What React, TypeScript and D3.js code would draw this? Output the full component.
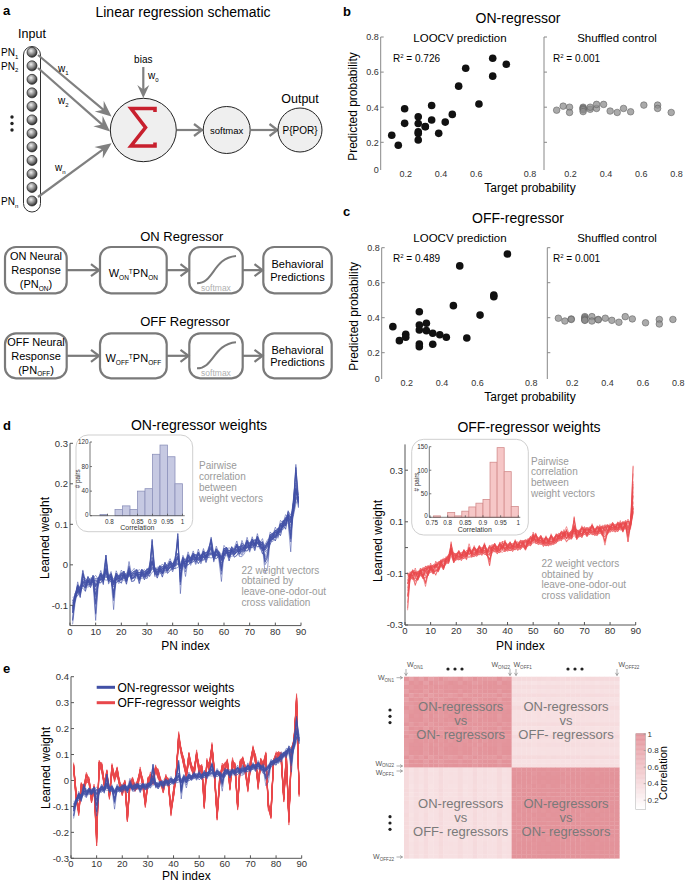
import React from 'react';
import * as d3 from 'd3';

const FONT = "'Liberation Sans', Arial, sans-serif";
const AX = '#555';
const ANN = '#9a9a9a';
const BLUE = '#4150a6';
const RED = '#e8474b';

// ---------- panel b / c data ----------
const targetProb = [0.121,0.158,0.194,0.194,0.271,0.271,0.271,0.271,0.271,0.311,0.311,0.347,0.347,0.387,0.424,0.464,0.5,0.54,0.615,0.693,0.693,0.77];
const onLoocv = [0.24,0.183,0.391,0.308,0.345,0.307,0.26,0.25,0.213,0.289,0.29,0.41,0.327,0.251,0.315,0.359,0.52,0.622,0.418,0.679,0.577,0.645];
const onShuffled = [0.383,0.406,0.4,0.37,0.4,0.395,0.39,0.385,0.375,0.388,0.4,0.393,0.416,0.416,0.378,0.37,0.393,0.374,0.412,0.412,0.393,0.37];
const offLoocv = [0.349,0.269,0.305,0.288,0.434,0.358,0.33,0.25,0.234,0.368,0.326,0.311,0.248,0.303,0.288,0.469,0.696,0.284,0.415,0.53,0.52,0.764];
const offShuffled = [0.397,0.381,0.393,0.39,0.406,0.4,0.393,0.387,0.385,0.406,0.381,0.39,0.388,0.397,0.385,0.374,0.406,0.393,0.371,0.39,0.364,0.39];
const probTicks = [0.2, 0.4, 0.6, 0.8];

// ---------- panel d / e weight data (PN index 1..89) ----------
const onCenter = [
  -0.100,-0.080,-0.060,-0.065,-0.045,-0.050,-0.040,-0.045,-0.035,-0.045,
  -0.040,-0.030,-0.035,-0.020,-0.035,-0.030,-0.045,-0.030,-0.035,-0.030,
  -0.025,-0.035,-0.020,-0.030,-0.025,-0.020,-0.030,-0.020,-0.025,-0.020,
  -0.015,0.000,-0.015,-0.020,-0.010,-0.015,-0.005,-0.010,0.000,-0.005,
  0.005,0.010,-0.005,0.010,0.005,0.015,0.010,0.020,0.015,0.020,
  0.015,0.025,0.020,0.030,0.035,0.020,0.030,0.025,0.015,0.030,
  0.035,0.025,0.035,0.030,0.040,0.035,0.045,0.040,0.050,0.045,
  0.055,0.050,0.060,0.050,0.045,0.040,0.050,0.065,0.070,0.075,
  0.080,0.090,0.100,0.105,0.120,0.110,0.140,0.175,0.160];
const onWiggle = [
  0.012,-0.008,0.010,-0.012,0.006,0.009,-0.010,0.004,-0.007,0.011,
  -0.005,0.008,-0.009,0.012,-0.006,0.005,-0.011,0.007,-0.004,0.009,
  -0.008,0.006,-0.010,0.004,0.008,-0.006,0.010,-0.007,0.005,-0.009,
  0.007,0.012,-0.008,0.006,-0.005,0.009,-0.010,0.004,0.007,-0.006,
  0.008,0.010,-0.012,0.005,-0.008,0.009,-0.004,0.006,-0.009,0.011,
  -0.006,0.007,-0.010,0.005,0.012,-0.007,0.008,-0.005,-0.012,0.010,
  -0.006,0.009,-0.008,0.004,0.011,-0.009,0.007,-0.005,0.010,-0.008,
  0.006,-0.011,0.009,-0.004,0.012,-0.010,-0.013,0.008,-0.006,0.010,
  -0.009,0.012,-0.007,0.011,-0.012,-0.015,0.014,0.020,-0.016];
const onSpikes = [[1,-0.045],[5,0.03],[10,-0.09],[14,0.045],[17,-0.05],[23,0.02],[32,0.065],[42,0.07],[43,-0.05],[45,-0.02],[55,0.03],[59,-0.04],[67,-0.02],[76,-0.045],[77,-0.04],[86,-0.06],[88,0.07]];

const offCenter = [
  -0.120,-0.110,-0.105,-0.100,-0.110,-0.095,-0.100,-0.085,-0.090,-0.080,
  -0.085,-0.070,-0.075,-0.060,-0.065,-0.050,-0.045,-0.020,-0.040,-0.035,
  -0.030,-0.035,-0.025,-0.030,-0.020,-0.025,-0.015,-0.020,-0.010,-0.015,
  -0.005,-0.020,-0.010,-0.005,0.000,-0.010,0.000,-0.005,0.005,0.000,
  0.005,0.000,0.010,0.005,0.010,0.015,0.010,0.020,0.025,0.030,
  0.035,0.025,0.030,0.020,0.025,0.020,0.030,0.025,0.035,0.040,
  0.045,0.050,0.040,0.045,0.050,0.060,0.050,0.055,0.060,0.065,
  0.060,0.065,0.070,0.060,0.065,0.070,0.065,0.075,0.070,0.075,
  0.080,0.075,0.080,0.085,0.080,0.090,0.085,0.090,0.150];
const offWiggle = [
  -0.015,0.012,-0.010,0.016,-0.008,0.011,-0.014,0.009,-0.012,0.015,
  -0.009,0.013,-0.011,0.008,-0.015,0.010,-0.007,0.014,-0.012,0.009,
  -0.010,0.012,-0.008,0.015,-0.011,0.007,-0.013,0.010,-0.009,0.012,
  -0.014,0.008,-0.010,0.013,-0.007,0.011,-0.012,0.009,-0.015,0.010,
  -0.008,0.012,-0.011,0.014,-0.009,0.007,-0.013,0.011,-0.010,0.015,
  -0.012,0.009,-0.008,0.013,-0.011,0.010,-0.014,0.008,-0.009,0.012,
  -0.010,0.015,-0.012,0.009,-0.008,0.013,-0.011,0.010,-0.015,0.012,
  -0.009,0.011,-0.013,0.008,-0.010,0.014,-0.012,0.009,-0.011,0.013,
  -0.008,0.012,-0.010,0.015,-0.013,0.011,-0.016,0.012,0.020];
const offSpikes = [[1,-0.11],[4,-0.04],[8,-0.06],[12,-0.03],[18,0.04],[25,0.03],[33,-0.05],[38,0.03],[50,0.025],[63,0.04],[66,0.06],[78,-0.06],[87,-0.05],[89,0.17]];

const offEOrderCenter = [
  0.055,-0.060,-0.120,-0.025,-0.030,0.010,0.000,-0.070,-0.030,-0.210,
  0.065,0.050,-0.015,0.025,-0.060,0.045,0.010,0.035,-0.015,-0.040,
  -0.010,-0.140,-0.015,-0.005,-0.030,-0.015,0.035,-0.010,-0.090,-0.005,
  0.015,0.000,0.045,0.025,-0.005,-0.030,0.010,-0.010,-0.120,-0.050,
  0.020,0.160,0.110,0.070,0.020,0.090,0.050,0.030,0.100,0.040,
  0.050,-0.090,0.070,0.050,0.130,0.020,-0.140,0.000,0.050,0.050,
  0.070,-0.020,0.070,0.050,-0.100,0.060,0.080,0.040,-0.030,0.060,
  0.120,0.080,-0.020,0.070,0.060,0.090,-0.100,-0.130,0.070,0.090,
  0.100,0.090,-0.070,0.090,-0.150,0.110,0.150,0.300,-0.050];
const offEOrderWiggle = [
  0.010,-0.012,0.014,-0.009,0.011,-0.013,0.008,-0.010,0.012,-0.015,
  0.009,-0.011,0.013,-0.008,0.010,-0.012,0.014,-0.009,0.011,-0.013,
  0.008,-0.014,0.012,-0.010,0.009,-0.011,0.013,-0.008,0.012,-0.010,
  0.014,-0.009,0.011,-0.012,0.008,-0.013,0.010,-0.011,0.015,-0.009,
  0.012,-0.014,0.010,-0.008,0.013,-0.011,0.009,-0.012,0.014,-0.010,
  0.008,-0.013,0.011,-0.009,0.012,-0.014,0.010,-0.008,0.013,-0.011,
  0.009,-0.012,0.014,-0.010,0.011,-0.013,0.008,-0.009,0.012,-0.014,
  0.010,-0.011,0.013,-0.008,0.009,-0.012,0.014,-0.010,0.011,-0.013,
  0.008,-0.012,0.010,-0.014,0.012,-0.009,0.013,-0.015,0.010];
const offESpikes = [[10,-0.03],[42,0.02],[85,-0.01],[88,0.03]];

// per-vector coefficients of the 22 leave-one-odor-out vectors
const onA = [-1,-0.8,-0.6,-0.45,-0.3,-0.2,-0.1,0,0.1,0.2,0.3,0.4,0.5,0.65,0.8,1,-0.9,0.9,-0.5,0.55,-0.05,0.05];
const onB = [0.6,-0.9,0.3,-0.4,1,-0.7,0.8,-0.2,0.5,-1,0.1,0.7,-0.6,0.4,-0.3,0.9,-0.8,0.2,-0.1,0.65,-0.45,0];
const onC = [1,0,0.3,0,0.6,0,0,0.8,0,0.2,0,0.5,0,0,0.9,0,0.4,0,0,0.7,0,0.1];
const offA = [0.7,-0.3,1,-0.9,0.2,-0.6,0.45,-0.15,0.9,-1,0.35,-0.45,0.05,0.6,-0.75,0.15,-0.2,0.8,-0.5,0.3,-0.05,0.55];
const offB = [-0.5,0.8,-0.2,0.6,-1,0.3,-0.7,0.9,-0.4,0.1,1,-0.8,0.5,-0.3,0.7,-0.6,0.2,-0.9,0.4,0,0.65,-0.15];
const offC = [0,0.9,0,0.4,0,1,0,0.2,0.6,0,0,0.7,0,0.3,0,0,0.8,0,0.5,0,0.1,0];

// histogram insets
const onHistStart = 0.725, onHistWidth = 0.025;
const onHistCounts = [2,0,10,16,10,40,44,100,115,96,52];
const onHistTicks = [0.75,0.85,0.9,0.95,1];
const onHistLabels = ['0.8','0.85','0.9','0.95','1'];
const offHistStart = 0.76, offHistWidth = 0.02;
const offHistCounts = [3,0,10,3,13,22,30,38,117,148,97,23];
const offHistTicks = [0.75,0.8,0.85,0.9,0.95,1];
const offHistLabels = ['0.75','0.8','0.85','0.9','0.95','1'];

const pnTicks = [0,10,20,30,40,50,60,70,80,90];

function makeLines(center: number[], band: number, wig: number[], spikes: number[][], A: number[], B: number[], C: number[]) {
  return A.map((a, k) => center.map((v, i) => {
    let s = 0;
    for (const [idx, val] of spikes) if (idx === i + 1) s += val;
    return v + a * band + B[k] * (wig[i] ?? 0) + C[k] * s;
  }));
}

function pearson(x: number[], y: number[]) {
  const mx = d3.mean(x) as number, my = d3.mean(y) as number;
  let sxy = 0, sxx = 0, syy = 0;
  for (let i = 0; i < x.length; i++) {
    const dx = x[i] - mx, dy = y[i] - my;
    sxy += dx * dy; sxx += dx * dx; syy += dy * dy;
  }
  return sxy / Math.sqrt(sxx * syy);
}

const onLines = makeLines(onCenter, 0.009, onWiggle, onSpikes, onA, onB, onC);
const offLines = makeLines(offCenter, 0.014, offWiggle, offSpikes, offA, offB, offC);
const offELines = makeLines(offEOrderCenter, 0.012, offEOrderWiggle, offESpikes, offA, offB, offC);

function Sub({ children, size = 6.5, dy = 2.5 }: any) {
  return <tspan fontSize={size} dy={dy}>{children}</tspan>;
}

function arrowHead(x1: number, y1: number, x2: number, y2: number, L: number, H: number) {
  const dx = x2 - x1, dy = y2 - y1, len = Math.hypot(dx, dy);
  const ux = dx / len, uy = dy / len, nx = -uy, ny = ux;
  const bx = x2 - L * ux, by = y2 - L * uy;
  const mx = x2 - 0.65 * L * ux, my = y2 - 0.65 * L * uy;
  return `M${x2},${y2} L${bx + H * nx},${by + H * ny} L${mx},${my} L${bx - H * nx},${by - H * ny} Z`;
}

function Arrow({ x1, y1, x2, y2, L = 12, H = 6, color = '#808080', w = 2.2 }: any) {
  const dx = x2 - x1, dy = y2 - y1, len = Math.hypot(dx, dy);
  const ex = x2 - (L * 0.6) * dx / len, ey = y2 - (L * 0.6) * dy / len;
  return (
    <g>
      <line x1={x1} y1={y1} x2={ex} y2={ey} stroke={color} strokeWidth={w} />
      <path d={arrowHead(x1, y1, x2, y2, L, H)} fill={color} />
    </g>
  );
}

function Chevron({ x1, x2, y, color = '#808080' }: any) {
  return (
    <g stroke={color} strokeWidth={2.2} fill="none" strokeLinejoin="miter">
      <line x1={x1} y1={y} x2={x2 - 1} y2={y} />
      <polyline points={`${x2 - 8},${y - 6} ${x2},${y} ${x2 - 8},${y + 6}`} />
    </g>
  );
}

function PanelA() {
  const pnY = d3.scaleLinear().domain([0, 11]).range([52.3, 201]);
  const boxes = [[5, 66.7], [100, 166.7], [189.3, 242.7], [263.3, 331.7]];
  const rows = [[247, 293.3], [333.3, 378.3]];
  return (
    <g fontFamily={FONT}>
      <defs>
        <radialGradient id="sph" cx="40%" cy="35%" r="65%">
          <stop offset="0" stopColor="#f0f0f0" />
          <stop offset="0.55" stopColor="#8a8a8a" />
          <stop offset="1" stopColor="#2c2c2c" />
        </radialGradient>
      </defs>
      <text x={3} y={15} fontWeight="bold" fontSize={13}>a</text>
      <text x={183} y={16.5} textAnchor="middle" fontSize={14}>Linear regression schematic</text>
      <text x={32} y={38} textAnchor="middle" fontSize={12.5}>Input</text>
      <rect x={23.5} y={46.5} width={17} height={165.5} rx={8.5} fill="white" stroke="#333" strokeWidth={1} />
      {d3.range(12).map(k => (
        <circle key={k} cx={32} cy={pnY(k)} r={5} fill="url(#sph)" stroke="#222" strokeWidth={0.7} />
      ))}
      <text x={1} y={56} fontSize={10}>PN<Sub size={6}>1</Sub></text>
      <text x={1} y={69.5} fontSize={10}>PN<Sub size={6}>2</Sub></text>
      <text x={1} y={205} fontSize={10}>PN<Sub size={6}>n</Sub></text>
      {[117, 123.5, 130].map(y => <circle key={y} cx={12} cy={y} r={1.7} fill="#222" />)}
      <Arrow x1={38} y1={55} x2={111.5} y2={116.5} L={16} H={7} />
      <Arrow x1={38} y1={68} x2={110} y2={131.5} L={16} H={7} />
      <Arrow x1={38} y1={197} x2={111.5} y2={143.3} L={16} H={7} />
      <text x={58} y={72} fontSize={10}>w<Sub size={6}>1</Sub></text>
      <text x={58} y={104} fontSize={10}>w<Sub size={6}>2</Sub></text>
      <text x={55} y={171} fontSize={10}>w<Sub size={6}>n</Sub></text>
      <text x={143.3} y={62.5} textAnchor="middle" fontSize={10}>bias</text>
      <Arrow x1={143.3} y1={67} x2={143.3} y2={98} L={13} H={6} />
      <text x={148} y={79} fontSize={10}>w<Sub size={6}>0</Sub></text>
      <ellipse cx={143.3} cy={130} rx={33} ry={31.7} fill="#efefef" stroke="#222" strokeWidth={1} />
      <path d="M155,112 L155,108.5 L131,108.5 L145.5,127.5 L131,146 L155,146 L155,142.5" fill="none" stroke="#c8202e" strokeWidth={3.6} strokeLinejoin="miter" />
      <Chevron x1={177} x2={202} y={130} />
      <circle cx={226.7} cy={130} r={23.5} fill="#efefef" stroke="#222" strokeWidth={1} />
      <text x={226.7} y={133.5} textAnchor="middle" fontSize={9.5}>softmax</text>
      <Chevron x1={250.5} x2={277.5} y={130} />
      <text x={300} y={102.5} textAnchor="middle" fontSize={12.5}>Output</text>
      <circle cx={300} cy={130} r={22} fill="#efefef" stroke="#222" strokeWidth={1} />
      <text x={300} y={133.5} textAnchor="middle" fontSize={10}>P{'{'}POR{'}'}</text>

      <text x={181.7} y={241} textAnchor="middle" fontSize={13}>ON Regressor</text>
      <text x={185} y={326} textAnchor="middle" fontSize={13}>OFF Regressor</text>
      {rows.map(([y0, y1], r) => (
        <g key={r}>
          {boxes.map(([x0, x1], b) => (
            <rect key={b} x={x0} y={y0} width={x1 - x0} height={y1 - y0} rx={11} fill="white" stroke="#7a7a7a" strokeWidth={2.2} />
          ))}
          <Chevron x1={66.7} x2={99} y={(y0 + y1) / 2} color="#7a7a7a" />
          <Chevron x1={166.7} x2={188.5} y={(y0 + y1) / 2} color="#7a7a7a" />
          <Chevron x1={242.7} x2={262.5} y={(y0 + y1) / 2} color="#7a7a7a" />
          <path d={`M197,${y1 - 10} C214,${y1 - 10} 213,${y0 + 11} 236,${y0 + 9}`} fill="none" stroke="#7a7a7a" strokeWidth={2} />
          <text x={216} y={y1 - 2.5} textAnchor="middle" fontSize={8.5} fill="#b0b0b0">softmax</text>
          <text x={297.5} y={(y0 + y1) / 2 - 2} textAnchor="middle" fontSize={11}>Behavioral</text>
          <text x={297.5} y={(y0 + y1) / 2 + 10.5} textAnchor="middle" fontSize={11}>Predictions</text>
        </g>
      ))}
      <g fontSize={11} textAnchor="middle">
        <text x={36} y={260}>ON Neural</text>
        <text x={36} y={274}>Response</text>
        <text x={36} y={288}>(PN<Sub size={6.5} dy={2.5}>ON</Sub><tspan dy={-2.5}>)</tspan></text>
        <text x={133.3} y={277}>W<Sub size={6.5} dy={2.5}>ON</Sub><tspan fontSize={6.5} dy={-6}>T</tspan><tspan dy={3.5}>PN</tspan><Sub size={6.5} dy={2.5}>ON</Sub></text>
        <text x={36} y={345.5}>OFF Neural</text>
        <text x={36} y={360}>Response</text>
        <text x={36} y={373.5}>(PN<Sub size={6.5} dy={2.5}>OFF</Sub><tspan dy={-2.5}>)</tspan></text>
        <text x={133.3} y={362}>W<Sub size={6.5} dy={2.5}>OFF</Sub><tspan fontSize={6.5} dy={-6}>T</tspan><tspan dy={3.5}>PN</tspan><Sub size={6.5} dy={2.5}>OFF</Sub></text>
      </g>
    </g>
  );
}

function Scatter({ xs, ys, xScale, yScale, shuffled }: any) {
  return (
    <g>
      {xs.map((x: number, i: number) => (
        shuffled
          ? <circle key={i} cx={xScale(x)} cy={yScale(ys[i])} r={3.3} fill="#8d8d8d" fillOpacity={0.75} stroke="#5e5e5e" strokeWidth={0.7} strokeOpacity={0.8} />
          : <circle key={i} cx={xScale(x)} cy={yScale(ys[i])} r={3.8} fill="#111" />
      ))}
    </g>
  );
}

function ScatterPair({ top, letter, title, r2, ys1, ys2, xL0, xR0, axL, axR, y02, y08, yBottom }: any) {
  const per = 176.5;
  const xL = d3.scaleLinear().domain([0, 0.8]).range([xL0, xL0 + 0.8 * per]);
  const xR = d3.scaleLinear().domain([0, 0.8]).range([xR0, xR0 + 0.8 * per]);
  const y = d3.scaleLinear().domain([0.2, 0.8]).range([y02, y08]);
  const yTop = y(0.8);
  return (
    <g fontFamily={FONT}>
      <text x={343} y={top + 16} fontWeight="bold" fontSize={13}>{letter}</text>
      <text x={518} y={top + 23} textAnchor="middle" fontSize={14}>{title}</text>
      <text x={460} y={top + 42} textAnchor="middle" fontSize={11.5}>LOOCV prediction</text>
      <text x={617} y={top + 42} textAnchor="middle" fontSize={11.5}>Shuffled control</text>
      <text x={393} y={top + 62} fontSize={10}>R<tspan fontSize={6} dy={-4}>2</tspan><tspan dy={4}> = {r2}</tspan></text>
      <text x={553} y={top + 62} fontSize={10}>R<tspan fontSize={6} dy={-4}>2</tspan><tspan dy={4}> = 0.001</tspan></text>
      <line x1={axL} x2={axL} y1={yTop} y2={yBottom} stroke="#888" strokeWidth={1} />
      <line x1={axR} x2={axR} y1={yTop} y2={yBottom} stroke="#888" strokeWidth={1} />
      {[0.2, 0.4, 0.6, 0.8].map(t => (
        <g key={t}>
          <line x1={axL} x2={axL + 3} y1={y(t)} y2={y(t)} stroke="#888" />
          <line x1={axR} x2={axR + 3} y1={y(t)} y2={y(t)} stroke="#888" />
          <text x={axL - 2} y={y(t) + 3.3} textAnchor="end" fontSize={9} fill="#333">{t}</text>
        </g>
      ))}
      <text x={axL - 2} y={yBottom + 3} textAnchor="end" fontSize={9} fill="#333">0</text>
      {probTicks.map(t => (
        <g key={t}>
          {t < 0.8 && <text x={xL(t)} y={yBottom + 7} textAnchor="middle" fontSize={9} fill="#333">{t}</text>}
          <text x={xR(t)} y={yBottom + 7} textAnchor="middle" fontSize={9} fill="#333">{t}</text>
        </g>
      ))}
      <text x={xL(0.905)} y={yBottom + 7} textAnchor="middle" fontSize={9} fill="#333">0.8</text>
      <text x={530} y={yBottom + 22} textAnchor="middle" fontSize={12}>Target probability</text>
      <text transform={`translate(${axL - 24},${(yTop + yBottom) / 2 + 3}) rotate(-90)`} textAnchor="middle" fontSize={12}>Predicted probability</text>
      <Scatter xs={targetProb} ys={ys1} xScale={xL} yScale={y} />
      <Scatter xs={targetProb} ys={ys2} xScale={xR} yScale={y} shuffled />
    </g>
  );
}

function Lines({ lines, x, y, color, w = 0.6 }: any) {
  const gen = d3.line<number>().x((_, i) => x(i + 1)).y(v => y(v));
  return (
    <g>
      {lines.map((l: number[], k: number) => (
        <path key={k} d={gen(l) as string} fill="none" stroke={color} strokeWidth={w} strokeOpacity={0.9} />
      ))}
    </g>
  );
}

function XAxisPN({ x, y0, labelY }: any) {
  return (
    <g>
      <line x1={x(0)} x2={x(90)} y1={y0} y2={y0} stroke={AX} />
      {pnTicks.map(t => (
        <g key={t}>
          <line x1={x(t)} x2={x(t)} y1={y0} y2={y0 - 3} stroke={AX} />
          <text x={x(t)} y={y0 + 9} textAnchor="middle" fontSize={9.5} fill="#333">{t}</text>
        </g>
      ))}
      <text x={(x(0) + x(90)) / 2} y={labelY} textAnchor="middle" fontSize={12}>PN index</text>
    </g>
  );
}

function YAxis({ y, x0, ticks, labels, top, bottom }: any) {
  return (
    <g>
      <line x1={x0} x2={x0} y1={top} y2={bottom} stroke={AX} />
      {ticks.map((t: number, i: number) => (
        <g key={t}>
          <line x1={x0} x2={x0 + 3} y1={y(t)} y2={y(t)} stroke={AX} />
          {labels[i] !== '' && <text x={x0 - 2} y={y(t) + 3.3} textAnchor="end" fontSize={9.5} fill="#333">{labels[i]}</text>}
        </g>
      ))}
    </g>
  );
}

function Inset({ rx0, ry0, rx1, ry1, axX, y0, yTopVal, yTopPix, xA, xB, xAv, xBv, counts, start, width, ticks, tickLabels, yTicks, fill, stroke }: any) {
  const x = d3.scaleLinear().domain([xAv, xBv]).range([xA, xB]);
  const y = d3.scaleLinear().domain([0, yTopVal]).range([y0, yTopPix]);
  return (
    <g>
      <rect x={rx0} y={ry0} width={rx1 - rx0} height={ry1 - ry0} rx={12} fill="white" stroke="#cfcfcf" strokeWidth={1} />
      {counts.map((c: number, i: number) => c > 0 && (
        <rect key={i} x={x(start + i * width)} y={y(c)} width={x(start + (i + 1) * width) - x(start + i * width)} height={y0 - y(c)} fill={fill} stroke={stroke} strokeWidth={0.8} />
      ))}
      <line x1={axX} x2={axX} y1={y(yTopVal)} y2={y0} stroke={AX} strokeWidth={0.8} />
      <line x1={axX} x2={rx1 - 8} y1={y0} y2={y0} stroke={AX} strokeWidth={0.8} />
      {yTicks.map((t: number) => (
        <g key={t}>
          <line x1={axX} x2={axX + 2} y1={y(t)} y2={y(t)} stroke={AX} strokeWidth={0.8} />
          <text x={axX - 1.5} y={y(t) + (t === 0 ? 1 : 2.3)} textAnchor="end" fontSize={6.3} fill="#333">{t}</text>
        </g>
      ))}
      {ticks.map((t: number, i: number) => (
        <g key={t}>
          <line x1={x(t)} x2={x(t)} y1={y0} y2={y0 - 2} stroke={AX} strokeWidth={0.8} />
          <text x={x(t) + (i === 0 ? 2 : 0)} y={y0 + 8} textAnchor="middle" fontSize={6.3} fill="#333">{tickLabels[i]}</text>
        </g>
      ))}
      <text x={(axX + rx1) / 2 - 4} y={y0 + 14.5} textAnchor="middle" fontSize={7} fill="#333">Correlation</text>
      <text transform={`translate(${axX - 10},${(y0 + y(yTopVal)) / 2}) rotate(-90)`} textAnchor="middle" fontSize={6.3} fill="#333"># pairs</text>
    </g>
  );
}

function AnnText({ x, y, lines, dy }: any) {
  return (
    <text fontSize={10} fill={ANN}>
      {lines.map((l: string, i: number) => <tspan key={i} x={x} y={y + i * dy}>{l}</tspan>)}
    </text>
  );
}

function PanelD() {
  const xL = d3.scaleLinear().domain([0, 90]).range([70, 301]);
  const yL = d3.scaleLinear().domain([-0.15, 0.3]).range([625.6, 443.3]);
  const xR = d3.scaleLinear().domain([0, 90]).range([405, 635.7]);
  const yR = d3.scaleLinear().domain([-0.3, 0.4]).range([625, 444.4]);
  return (
    <g fontFamily={FONT}>
      <text x={3} y={430} fontWeight="bold" fontSize={13}>d</text>
      <text x={199} y={430} textAnchor="middle" fontSize={14}>ON-regressor weights</text>
      <text x={529} y={432} textAnchor="middle" fontSize={14}>OFF-regressor weights</text>
      <Lines lines={onLines} x={xL} y={yL} color={BLUE} />
      <YAxis y={yL} x0={70} ticks={[-0.1, 0, 0.1, 0.2, 0.3]} labels={['-0.1', '0', '0.1', '0.2', '0.3']} top={443.3} bottom={625.6} />
      <XAxisPN x={xL} y0={625.6} labelY={650} />
      <text transform="translate(49,538) rotate(-90)" textAnchor="middle" fontSize={12}>Learned weight</text>
      <Inset rx0={76} ry0={435} rx1={192.7} ry1={531.7} axX={90} y0={515.7} yTopVal={120} yTopPix={442}
        xA={100} xB={182.5} xAv={0.725} xBv={1.0} counts={onHistCounts} start={onHistStart} width={onHistWidth}
        ticks={onHistTicks} tickLabels={onHistLabels} yTicks={[0, 40, 80, 120]} fill="#c6c9e2" stroke="#8d92bb" />
      <AnnText x={199} y={468.5} dy={11.3} lines={['Pairwise', 'correlation', 'between', 'weight vectors']} />
      <AnnText x={241.5} y={573.5} dy={10.9} lines={['22 weight vectors', 'obtained by', 'leave-one-odor-out', 'cross validation']} />

      <Lines lines={offLines} x={xR} y={yR} color={RED} />
      <YAxis y={yR} x0={405} ticks={[-0.3, -0.1, 0, 0.1, 0.3]} labels={['-0.3', '-0.1', '', '0.1', '0.3']} top={444.4} bottom={625} />
      <XAxisPN x={xR} y0={625} labelY={650} />
      <text transform="translate(382,541) rotate(-90)" textAnchor="middle" fontSize={12}>Learned weight</text>
      <Inset rx0={411.7} ry0={439.3} rx1={528.3} ry1={535} axX={429.3} y0={517.3} yTopVal={150} yTopPix={446.7}
        xA={430} xB={518.3} xAv={0.75} xBv={1.0} counts={offHistCounts} start={offHistStart} width={offHistWidth}
        ticks={offHistTicks} tickLabels={offHistLabels} yTicks={[0, 50, 100, 150]} fill="#f6c7c7" stroke="#d38c8c" />
      <AnnText x={531} y={464.5} dy={10.8} lines={['Pairwise', 'correlation', 'between', 'weight vectors']} />
      <AnnText x={541.5} y={567} dy={10.6} lines={['22 weight vectors', 'obtained by', 'leave-one-odor-out', 'cross validation']} />
    </g>
  );
}

function PanelE() {
  const x = d3.scaleLinear().domain([0, 90]).range([71, 301.7]);
  const y = d3.scaleLinear().domain([-0.3, 0.4]).range([858.3, 676.7]);
  const yt = [-0.3, -0.2, -0.1, 0, 0.1, 0.2, 0.3, 0.4];
  const vecs = [...onLines, ...offELines];
  const n = vecs.length;
  const cells: { r: number; c: number; v: number }[] = [];
  for (let r = 0; r < n; r++) for (let c = 0; c < n; c++) cells.push({ r, c, v: pearson(vecs[r], vecs[c]) });
  const hx = d3.scaleBand<number>().domain(d3.range(n)).range([404, 619.3]);
  const hy = d3.scaleBand<number>().domain(d3.range(n)).range([676.7, 858.3]);
  const color = d3.scaleLinear<string>().domain([0.1, 1]).range(['#ffffff', '#e3939a']).clamp(true);
  const cb = d3.scaleLinear().domain([0.09, 1]).range([809.3, 734]);
  const cbSteps = d3.range(0.09, 1.0001, 0.01);
  const quadText = (cx: number, cy: number, l3: string) => (
    <text fontSize={13} fill="#7a7a7a" textAnchor="middle">
      <tspan x={cx} y={cy}>ON-regressors</tspan>
      <tspan x={cx} y={cy + 14}>vs</tspan>
      <tspan x={cx} y={cy + 28}>{l3}</tspan>
    </text>
  );
  const wLab = (xx: number, yy: number, sub: string, anchor = 'start') => (
    <text x={xx} y={yy} fontSize={7} fill="#555" textAnchor={anchor}>W<tspan fontSize={4.6} dy={1.6}>{sub}</tspan></text>
  );
  const downArrow = (xx: number) => (
    <path d={`M${xx},669 L${xx},675.5 M${xx - 1.6},672.8 L${xx},675.5 L${xx + 1.6},672.8`} stroke="#777" strokeWidth={0.6} fill="none" />
  );
  const rightArrow = (yy: number) => (
    <path d={`M396.5,${yy} L402.5,${yy} M400,${yy - 1.5} L402.5,${yy} L400,${yy + 1.5}`} stroke="#777" strokeWidth={0.6} fill="none" />
  );
  return (
    <g fontFamily={FONT}>
      <text x={3} y={673} fontWeight="bold" fontSize={13}>e</text>
      <Lines lines={offELines} x={x} y={y} color={RED} w={0.7} />
      <Lines lines={onLines} x={x} y={y} color={BLUE} w={0.6} />
      <YAxis y={y} x0={71} ticks={yt} labels={yt.map(t => (t === 0 ? '0' : String(t)))} top={676.7} bottom={858.3} />
      <XAxisPN x={x} y0={858.3} labelY={880} />
      <text transform="translate(50,768) rotate(-90)" textAnchor="middle" fontSize={12}>Learned weight</text>
      <line x1={96.7} x2={115} y1={687.3} y2={687.3} stroke={BLUE} strokeWidth={3} />
      <text x={117.5} y={691.5} fontSize={12}>ON-regressor weights</text>
      <line x1={96.7} x2={115} y1={702.7} y2={702.7} stroke={RED} strokeWidth={3} />
      <text x={117.5} y={707} fontSize={12}>OFF-regressor weights</text>

      {cells.map(({ r, c, v }) => (
        <rect key={r * n + c} x={hx(c)} y={hy(r)} width={hx.bandwidth() + 0.3} height={hy.bandwidth() + 0.3} fill={color(v)} />
      ))}
      {quadText(460.7, 711, 'ON- regressors')}
      {quadText(566, 711, 'OFF- regressors')}
      {quadText(460.7, 807.5, 'OFF- regressors')}
      {quadText(566, 807.5, 'ON- regressors')}
      {cbSteps.map((v, i) => (
        <rect key={i} x={635.7} y={cb(v + 0.01)} width={10} height={cb(v) - cb(v + 0.01) + 0.3} fill={color(v)} />
      ))}
      <rect x={635.7} y={734} width={10} height={75.3} fill="none" stroke="#bbb" strokeWidth={0.6} />
      {[1, 0.8, 0.6, 0.4, 0.2].map(t => (
        <g key={t}>
          <line x1={643.7} x2={645.7} y1={cb(t)} y2={cb(t)} stroke="#888" strokeWidth={0.6} />
          <text x={647.5} y={cb(t) + 2.8} fontSize={8} fill="#333">{t}</text>
        </g>
      ))}
      <text transform="translate(667,773) rotate(-90)" textAnchor="middle" fontSize={11}>Correlation</text>
      {wLab(407, 667, 'ON1')}
      {wLab(491.5, 667, 'ON22')}
      {wLab(513.5, 667, 'OFF1')}
      {wLab(618.5, 667, 'OFF22')}
      {downArrow(406)}{downArrow(510)}{downArrow(516)}{downArrow(617)}
      {[448, 455, 462].map(xx => <circle key={xx} cx={xx} cy={669} r={1.6} fill="#222" />)}
      {[568, 575, 582].map(xx => <circle key={xx} cx={xx} cy={669} r={1.6} fill="#222" />)}
      {wLab(394, 680, 'ON1', 'end')}
      {wLab(394, 765.5, 'ON22', 'end')}
      {wLab(394, 774.5, 'OFF1', 'end')}
      {wLab(394, 859, 'OFF22', 'end')}
      {rightArrow(677.7)}{rightArrow(766)}{rightArrow(771)}{rightArrow(857)}
      {[710, 716.3, 722.6, 816.7, 823, 829.3].map(yy => <circle key={yy} cx={390} cy={yy} r={1.6} fill="#222" />)}
    </g>
  );
}

export default function App() {
  return (
    <svg width={685} height={883} viewBox="0 0 685 883" style={{ position: 'absolute', left: 0, top: 0, background: 'white' }} fontFamily={FONT}>
      <rect width={685} height={883} fill="white" />
      <PanelA />
      <ScatterPair top={0} letter="b" title="ON-regressor" r2="0.726" ys1={onLoocv} ys2={onShuffled}
        xL0={370.4} xR0={535.3} axL={380.7} axR={544} y02={142.3} y08={37} yBottom={170} />
      <ScatterPair top={200} letter="c" title="OFF-regressor" r2="0.489" ys1={offLoocv} ys2={offShuffled}
        xL0={371.5} xR0={537} axL={381.7} axR={547.3} y02={352.7} y08={247.7} yBottom={379} />
      <PanelD />
      <PanelE />
    </svg>
  );
}
